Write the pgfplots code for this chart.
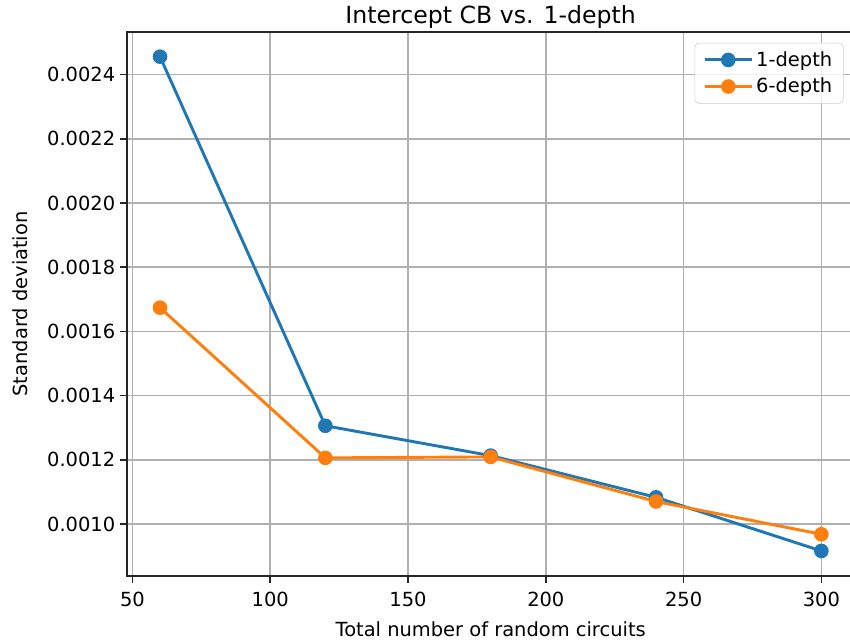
\documentclass[border=0pt]{standalone}
\usepackage{fontspec}
\setmainfont{DejaVu Sans}
\usepackage{pgfplots}
\pgfplotsset{compat=1.18}
\usetikzlibrary{calc}

\definecolor{mplblue}{HTML}{1F77B4}
\definecolor{mplorange}{HTML}{FF7F0E}
\definecolor{mplgrid}{HTML}{B0B0B0}

\begin{document}
\begin{tikzpicture}
\begin{axis}[
  name=ax,
  scale only axis,
  width=523.8pt, height=391.7pt,
  xmin=48, xmax=312,
  ymin=0.000838, ymax=0.002533,
  xtick={50,100,...,300},
  ytick={0.0010,0.0012,0.0014,0.0016,0.0018,0.0020,0.0022,0.0024},
  scaled y ticks=false,
  yticklabel style={/pgf/number format/.cd,fixed,fixed zerofill,precision=4},
  xticklabel style={yshift=-3pt},
  /pgf/number format/assume math mode=true,
  tick label style={font=\fontsize{14}{16}\selectfont},
  label style={font=\fontsize{14}{16}\selectfont},
  title style={font=\fontsize{17}{19}\selectfont,yshift=-7pt},
  title={Intercept CB vs. 1-depth},
  xlabel={Total number of random circuits},
  ylabel={Standard deviation},
  xlabel style={yshift=-4pt},
  ylabel style={yshift=7pt},
  tick align=outside,
  major tick length=4.9pt,
  xtick pos=bottom, ytick pos=left,
  axis line style={line width=1.1pt,black!85},
  tick style={line width=1.1pt,black!85},
  grid=major,
  major grid style={mplgrid,line width=1.1pt},
  legend style={at={(1,1)},anchor=north east,xshift=-7.8pt,yshift=-7.9pt,
    draw=black!20,rounded corners=3pt,fill=white,fill opacity=0.8,text opacity=1,
    font=\fontsize{14}{16}\selectfont,inner xsep=6pt,inner ysep=4pt,row sep=3pt},
  legend cell align=left,
  legend image code/.code={\draw[fill opacity=1,draw opacity=1,mark repeat=2,mark phase=2] plot coordinates {(0cm,0cm) (0.6cm,0cm) (1.2cm,0cm)};},
]
\addplot[mplblue,line width=2.1pt,mark=*,mark size=4.2pt,mark options={fill=mplblue,draw=mplblue}]
  coordinates {(60,0.002456) (120,0.001306) (180,0.001213) (240,0.001083) (300,0.000916)};
\addlegendentry{1-depth}
\addplot[mplorange,line width=2.1pt,mark=*,mark size=4.2pt,mark options={fill=mplorange,draw=mplorange}]
  coordinates {(60,0.001674) (120,0.001206) (180,0.001209) (240,0.001070) (300,0.000968)};
\addlegendentry{6-depth}
\coordinate (bl) at (rel axis cs:0,0);
\coordinate (tr) at (rel axis cs:1,1);
\end{axis}
\pgfresetboundingbox
\useasboundingbox ($(bl)+(-91.4pt,-46.8pt)$) rectangle ($(bl|-tr)+(520.6pt,23pt)$);
\end{tikzpicture}
\end{document}
